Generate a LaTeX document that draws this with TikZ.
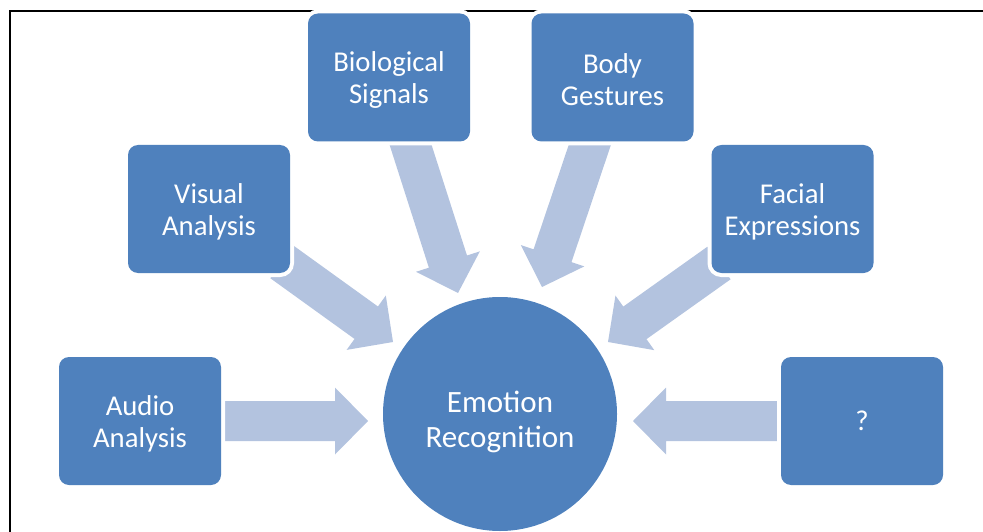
\documentclass[tikz,border=0pt]{standalone}
\usepackage{fontspec}
\setmainfont{Carlito}
\usetikzlibrary{calc}
\definecolor{boxblue}{HTML}{4F81BD}
\definecolor{arrowblue}{HTML}{B3C3DF}
\tikzset{
  srcbox/.style={rectangle, rounded corners=10, fill=boxblue, minimum width=162, minimum height=128,
    inner sep=0, preaction={draw=white, line width=8, rounded corners=10}},
  boxtxt/.style={text=white, align=center, inner sep=0, font=\fontsize{28.7}{32}\selectfont},
  arrowfill/.style={fill=arrowblue},
  frameline/.style={draw=black, line width=2.2},
}
\newcommand{\blockarrow}[2]{%
  \coordinate (ba-b) at ($(#2)!33pt!(#1)$);
  \fill[arrowfill] ($(#1)!20pt!90:(#2)$) -- ($(ba-b)!20pt!90:(#2)$) -- ($(ba-b)!33.5pt!90:(#2)$)
    -- (#2) -- ($(ba-b)!33.5pt!-90:(#2)$) -- ($(ba-b)!20pt!-90:(#2)$) -- ($(#1)!20pt!-90:(#2)$) -- cycle;
}
\begin{document}
\begin{tikzpicture}[x=1pt, y=-1pt]
\path[use as bounding box] (0,0) rectangle (983,532);
% frame
\draw[frameline] (10,532) -- (10,11) -- (983,11);

% node positions (coordinates only, drawn later)
\path (140,421) coordinate (audc)
      (862,421) coordinate (qc)
      (209,209) coordinate (visc)
      (792.5,209) coordinate (facc)
      (389,77.5) coordinate (bioc)
      (612.5,77.5) coordinate (bodc);

% arrow tips
\coordinate (audtip) at (368,421);
\coordinate (qtip) at (633,421);
\coordinate (vistip) at (393,342);
\coordinate (factip) at (608,342);
\coordinate (biotip) at (458,293);
\coordinate (bodtip) at (542,287);
\coordinate (vistail) at (282,262);
\coordinate (factail) at (719,263);

% arrows
\blockarrow{audc}{audtip}
\blockarrow{qc}{qtip}
\blockarrow{vistail}{vistip}
\blockarrow{factail}{factip}
\blockarrow{bioc}{biotip}
\blockarrow{bodc}{bodtip}

% boxes
\node[srcbox] (aud) at (audc) {};
\node[srcbox] (q) at (qc) {};
\node[srcbox] (vis) at (visc) {};
\node[srcbox] (fac) at (facc) {};
\node[srcbox] (bio) at (bioc) {};
\node[srcbox] (bod) at (bodc) {};

\node[boxtxt] (audt) at ($(aud.center)+(0,2.5)$) {Audio\\Analysis};
\node[boxtxt] (qt) at ($(q.center)+(0,0)$) {?};
\node[boxtxt] (vist) at ($(vis.center)+(0,2.5)$) {Visual\\Analysis};
\node[boxtxt] (fact) at ($(fac.center)+(0,2.5)$) {Facial\\Expressions};
\node[boxtxt] (biot) at ($(bio.center)+(0,2.5)$) {Biological\\Signals};
\node[boxtxt] (bodt) at ($(bod.center)+(0,2.5)$) {Body\\Gestures};

% centre
\node[circle, fill=boxblue, minimum size=234, inner sep=0] (em) at (500,414) {};
\node[text=white, align=center, font=\fontsize{31}{35}\selectfont, inner sep=0] (emtxt) at (500,422) {Emotion\\Recognition};
\end{tikzpicture}
\end{document}
